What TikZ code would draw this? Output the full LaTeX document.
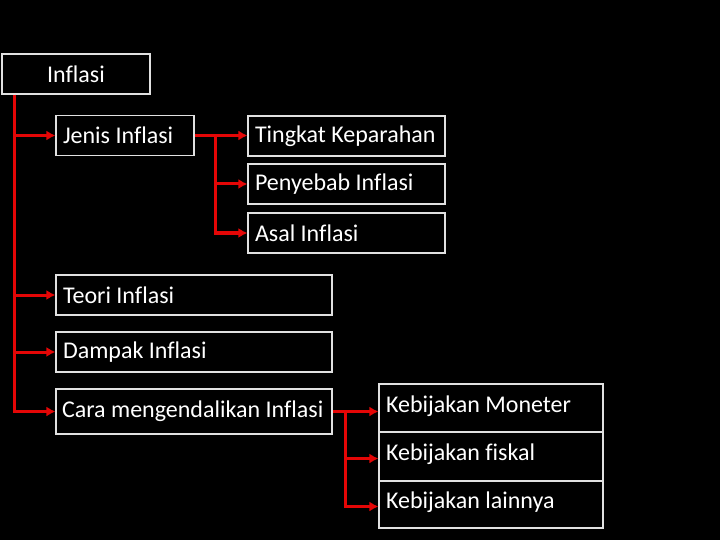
\documentclass[tikz,border=0pt]{standalone}
\usepackage{fontspec}
\setmainfont{Carlito}[Ligatures={NoCommon}]
\usetikzlibrary{arrows.meta}
\definecolor{linkred}{RGB}{228,6,6}
\definecolor{framegray}{RGB}{225,225,225}
\tikzset{
  box/.style={draw=framegray, line width=1.1pt, fill=black, text=white,
    font=\fontsize{24}{28}\selectfont, inner xsep=7pt, align=flush left,
    minimum height=40pt},
  link/.style={draw=linkred, line width=3pt,
    -{Latex[length=9pt,width=10pt]}},
}
\begin{document}
\begin{tikzpicture}[x=1pt,y=-1pt]
\fill[black] (0,0) rectangle (720,540);
\useasboundingbox (0,0) rectangle (720,540);

\node[box, align=center, text width=134pt] (infl) at (76,74) {Inflasi};
\node[box, text width=124pt] (jenis) at (125,135.5) {Jenis Inflasi};
\node[box, text width=183pt] (tingkat) at (346.5,136) {Tingkat Keparahan};
\node[box, text width=183pt] (penyebab) at (346.5,184) {Penyebab Inflasi};
\node[box, text width=183pt] (asal) at (346.5,233) {Asal Inflasi};
\node[box, text width=262pt] (teori) at (194,295) {Teori Inflasi};
\node[box, text width=262pt] (dampak) at (194,352) {Dampak Inflasi};
\node[box, text width=264pt, inner xsep=6pt, minimum height=45pt] (cara) at (194,411.5) {Cara mengendalikan Inflasi};
\node[box, text width=210pt, minimum height=48pt, text depth=8pt] (moneter) at (491,408) {Kebijakan Moneter};
\node[box, text width=210pt, minimum height=49pt, text depth=8pt] (fiskal) at (491,456.5) {Kebijakan fiskal};
\node[box, text width=210pt, minimum height=47pt, text depth=8pt] (lainnya) at (491,504.5) {Kebijakan lainnya};

% trunk points
\coordinate (t1) at (14,0);
\coordinate (t2) at (215,0);
\coordinate (t3) at (345,0);
\coordinate (f1) at ([yshift=-2pt]fiskal.west);
\coordinate (l1) at ([yshift=-2pt]lainnya.west);

\path[link] (t1 |- infl.south) |- (cara.west);
\path[link] (t1 |- jenis.west) -- (jenis.west);
\path[link] (t1 |- teori.west) -- (teori.west);
\path[link] (t1 |- dampak.west) -- (dampak.west);

\path[link] (jenis.east) -- (tingkat.west |- jenis.east);
\path[link] (t2 |- jenis.east) |- (asal.west);
\path[link] (t2 |- penyebab.west) -- (penyebab.west);

\path[link] (cara.east) -- (moneter.west |- cara.east);
\path[link] (t3 |- cara.east) |- (l1);
\path[link] (t3 |- f1) -- (f1);
\end{tikzpicture}
\end{document}
